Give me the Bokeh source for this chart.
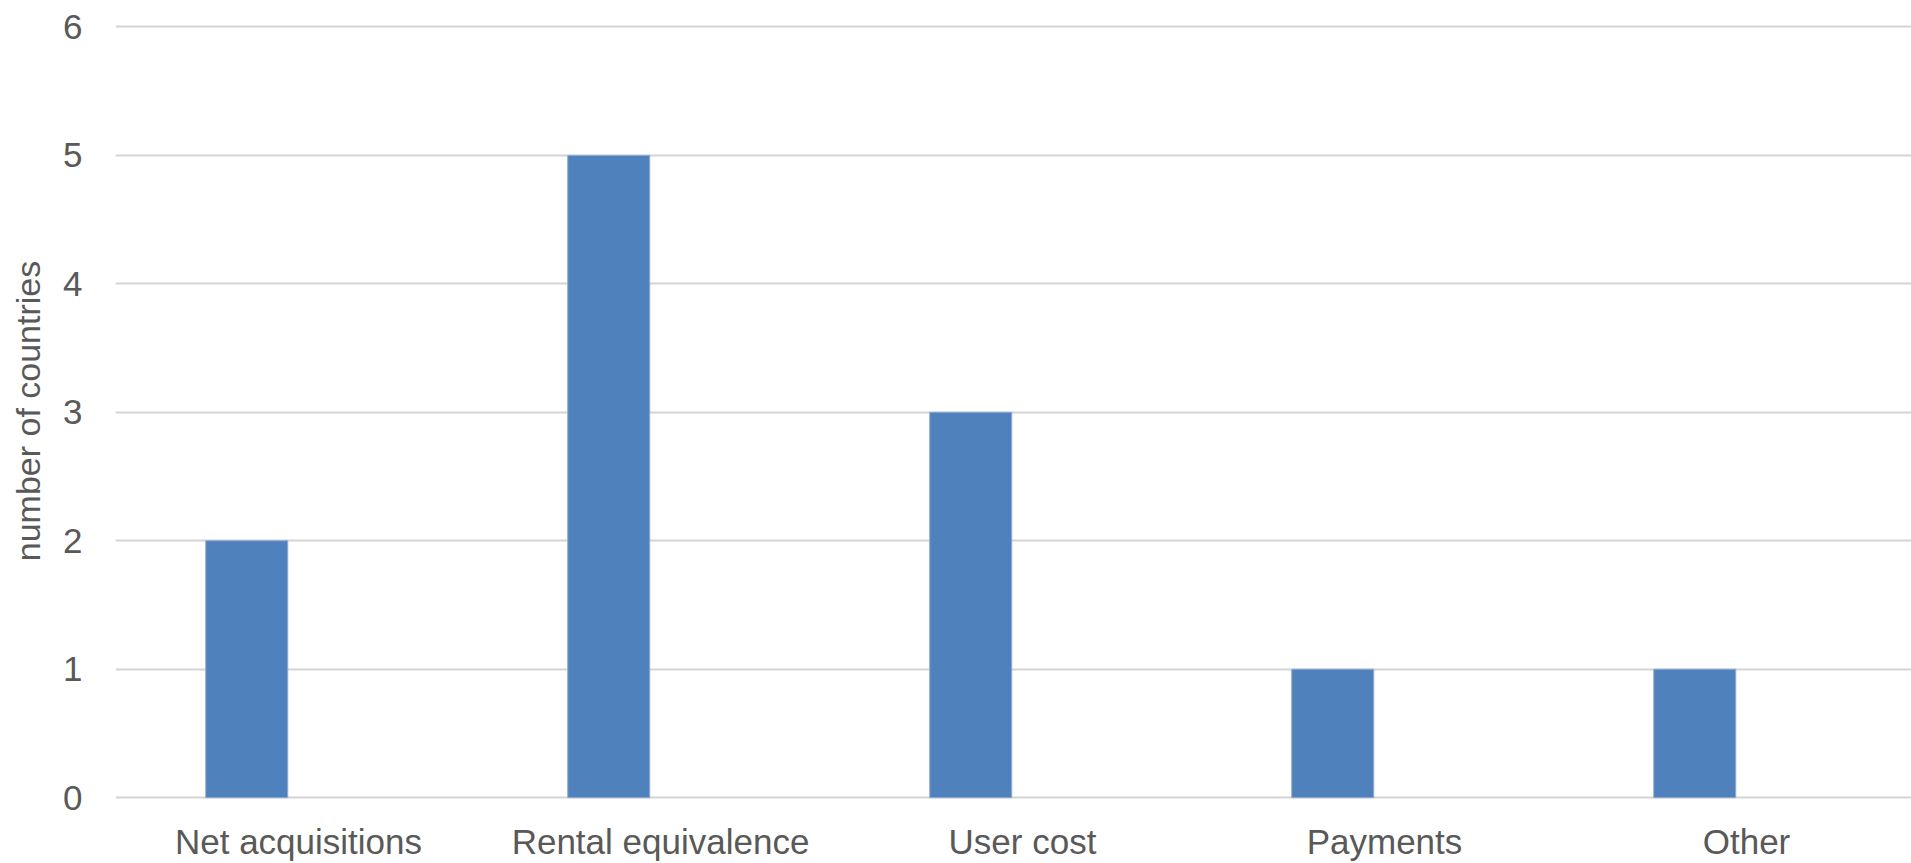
from bokeh.plotting import figure
from bokeh.models import Range1d, FixedTicker, ColumnDataSource
from bokeh.embed import file_html
from bokeh.resources import INLINE

categories = ["Net acquisitions", "Rental equivalence", "User cost", "Payments", "Other"]
counts = [2, 5, 3, 1, 1]
y_ticks = [0, 1, 2, 3, 4, 5, 6]

positions = list(range(len(categories)))
bar_offset = -0.143
bar_width = 0.2265

src = ColumnDataSource(dict(x=[p_ + bar_offset for p_ in positions], top=counts, cat=categories))

W, H = 1911, 863
left, top, bottom = 115, 20, 59
frame_w = W - left

p = figure(width=W, height=H, output_backend="svg", toolbar_location=None,
           x_range=Range1d(-0.5 - 2 / 362.0, -0.5 + (frame_w - 2) / 362.0),
           y_range=Range1d(-0.03, 6.05),
           min_border_left=left, min_border_right=0,
           min_border_top=top, min_border_bottom=bottom)

p.vbar(x="x", top="top", bottom=0, width=bar_width, source=src,
       fill_color="#4F81BD", line_color="#8FAAD3", line_width=1)

p.xaxis.ticker = FixedTicker(ticks=positions)
p.xaxis.major_label_overrides = {i: c for i, c in enumerate(categories)}
p.yaxis.ticker = FixedTicker(ticks=y_ticks)

for ax in (p.xaxis[0], p.yaxis[0]):
    ax.axis_line_color = None
    ax.major_tick_line_color = None
    ax.major_tick_out = 0
    ax.major_tick_in = 0
    ax.minor_tick_line_color = None
    ax.minor_tick_out = 0
    ax.major_label_text_font = "Liberation Sans"
    ax.major_label_text_font_size = "35px"
    ax.major_label_text_color = "#595959"

p.xaxis.major_label_standoff = 20
p.yaxis.major_label_standoff = 33

p.yaxis.axis_label = "number of countries"
p.yaxis.axis_label_text_font = "Liberation Sans"
p.yaxis.axis_label_text_font_size = "34px"
p.yaxis.axis_label_text_font_style = "normal"
p.yaxis.axis_label_text_color = "#595959"
p.yaxis.axis_label_standoff = 13

p.xgrid.grid_line_color = None
p.ygrid.grid_line_color = "#D4D4D4"
p.ygrid.grid_line_width = 2

p.outline_line_color = None
p.background_fill_color = "white"
p.border_fill_color = "white"

open("out.html", "w").write(file_html(p, INLINE))
